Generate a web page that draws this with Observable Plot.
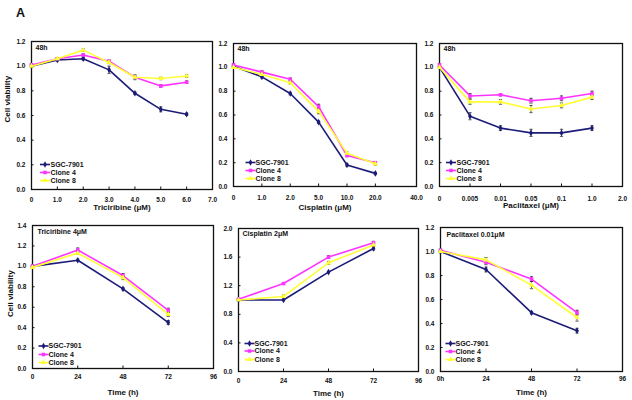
<!DOCTYPE html>
<html><head><meta charset="utf-8">
<script src="https://cdn.jsdelivr.net/npm/d3@7"></script>
<script src="https://cdn.jsdelivr.net/npm/@observablehq/plot@0.6"></script>
<style>
html,body{margin:0;padding:0;background:#fff;}
#wrap{position:relative;width:632px;height:400px;overflow:hidden;font-family:"Liberation Sans",Arial,sans-serif;}
#wrap svg{position:absolute;overflow:visible;}
#panelA{position:absolute;left:16px;top:6px;font-weight:bold;font-size:12.5px;color:#111;}
</style></head>
<body><div id="wrap"><div id="panelA">A</div></div>
<script>
// ---- series ----
const seriesNames = ["SGC-7901", "Clone 4", "Clone 8"];
const seriesColors = ["#1c1c78", "#ff33ff", "#ffff33"];
const seriesSymbols = ["diamond", "square", "triangle"];

// ---- Panel 1: Triciribine (µM), 48h ----
const tricX = [0, 1, 2, 3, 4, 5, 6];
const tricTicks = [0, 1, 2, 3, 4, 5, 6, 7];
const tricTickLabels = ["0", "1.0", "2.0", "3.0", "4.0", "5.0", "6.0", "7.0"];
const tricSGC = [1.00, 1.05, 1.06, 0.97, 0.78, 0.65, 0.61];
const tricC4  = [1.01, 1.06, 1.09, 1.04, 0.91, 0.84, 0.87];
const tricC8  = [1.00, 1.06, 1.13, 1.03, 0.91, 0.90, 0.92];
const tricErrSGC = [0.01, 0.01, 0.01, 0.03, 0.01, 0.02, 0.01];
const tricErrC4  = [0.01, 0.01, 0.01, 0.01, 0.01, 0.01, 0.01];
const tricErrC8  = [0.01, 0.01, 0.01, 0.01, 0.02, 0.01, 0.01];

// ---- Panel 2: Cisplatin (µM), 48h ----
const cisX = [0, 1, 2, 3, 4, 5];
const cisTicks = [0, 1, 2, 3, 4, 5, 6.45];
const cisTickLabels = ["0", "1.0", "2.0", "5.0", "10.0", "20.0", "40.0"];
const cisSGC = [1.01, 0.92, 0.78, 0.54, 0.18, 0.11];
const cisC4  = [1.02, 0.96, 0.90, 0.67, 0.26, 0.20];
const cisC8  = [1.00, 0.94, 0.87, 0.63, 0.28, 0.19];
const cisErrSGC = [0.01, 0.01, 0.01, 0.01, 0.01, 0.01];
const cisErrC4  = [0.01, 0.01, 0.01, 0.02, 0.01, 0.01];
const cisErrC8  = [0.01, 0.01, 0.01, 0.02, 0.01, 0.01];

// ---- Panel 3: Paclitaxel (µM), 48h ----
const pacX = [0, 1, 2, 3, 4, 5];
const pacTicks = [0, 1, 2, 3, 4, 5, 6];
const pacTickLabels = ["0", "0.005", "0.01", "0.05", "0.1", "1.0", "2.0"];
const pacSGC = [1.00, 0.59, 0.49, 0.45, 0.45, 0.49];
const pacC4  = [1.02, 0.76, 0.77, 0.72, 0.74, 0.78];
const pacC8  = [1.00, 0.71, 0.71, 0.65, 0.68, 0.75];
const pacErrSGC = [0.01, 0.03, 0.02, 0.03, 0.03, 0.02];
const pacErrC4  = [0.01, 0.02, 0.01, 0.02, 0.02, 0.02];
const pacErrC8  = [0.01, 0.02, 0.02, 0.03, 0.02, 0.02];

// ---- time course panels ----
const timeX = [0, 24, 48, 72];
const timeTicks = [0, 24, 48, 72, 96];
const timeTickLabels = ["0", "24", "48", "72", "96"];
const timeTickLabelsH = ["0h", "24", "48", "72", "96"];

// Panel 4: Triciribine 4µM
const tric4SGC = [1.00, 1.06, 0.78, 0.45];
const tric4C4  = [1.00, 1.16, 0.91, 0.57];
const tric4C8  = [0.99, 1.13, 0.89, 0.53];
const tric4ErrSGC = [0.01, 0.01, 0.01, 0.02];
const tric4ErrC4  = [0.01, 0.02, 0.02, 0.02];
const tric4ErrC8  = [0.01, 0.01, 0.02, 0.02];

// Panel 5: Cisplatin 2µM
const cis2SGC = [1.00, 1.00, 1.39, 1.72];
const cis2C4  = [1.01, 1.23, 1.60, 1.80];
const cis2C8  = [1.00, 1.05, 1.52, 1.77];
const cis2ErrSGC = [0.01, 0.01, 0.01, 0.02];
const cis2ErrC4  = [0.01, 0.01, 0.02, 0.02];
const cis2ErrC8  = [0.01, 0.02, 0.02, 0.02];

// Panel 6: Paclitaxel 0.01µM
const pac01SGC = [1.00, 0.85, 0.49, 0.34];
const pac01C4  = [1.01, 0.91, 0.77, 0.49];
const pac01C8  = [1.00, 0.93, 0.72, 0.45];
const pac01ErrSGC = [0.01, 0.02, 0.01, 0.02];
const pac01ErrC4  = [0.01, 0.02, 0.02, 0.02];
const pac01ErrC8  = [0.01, 0.02, 0.03, 0.03];

const yTicks12 = [0, 0.2, 0.4, 0.6, 0.8, 1.0, 1.2];
const yTicks14 = [0, 0.2, 0.4, 0.6, 0.8, 1.0, 1.2, 1.4];
const yTicks20 = [0, 0.4, 0.8, 1.2, 1.6, 2.0];

// ---- layout (frame: left, right, top, bottom in page px) ----
const panels = [
  {frame:[31,212,41,189], xs:tricX, xDomain:[0,7], xTicks:tricTicks, xLabels:tricTickLabels, yDomain:[0,1.2], yTicks:yTicks12,
   vals:[tricSGC,tricC4,tricC8], errs:[tricErrSGC,tricErrC4,tricErrC8], note:"48h", noteDx:4, noteDy:6,
   xTitle:"Triciribine (\u03bcM)", xTitleDy:18, xLabOff:10, yTitle:"Cell viability", yTitleDx:-24, yTitleDy:7,
   legX:13.5, legTextX:19, legDy:[-25,-17,-9]},
  {frame:[233,416,43,186], xs:cisX, xDomain:[0,6.45], xTicks:cisTicks, xLabels:cisTickLabels, yDomain:[0,1.2], yTicks:yTicks12,
   vals:[cisSGC,cisC4,cisC8], errs:[cisErrSGC,cisErrC4,cisErrC8], note:"48h", noteDx:4, noteDy:5,
   xTitle:"Cisplatin (\u03bcM)", xTitleDy:21, xLabOff:11,
   legX:17, legTextX:22, legDy:[-24,-16,-8]},
  {frame:[439,622,43,186], xs:pacX, xDomain:[0,6], xTicks:pacTicks, xLabels:pacTickLabels, yDomain:[0,1.2], yTicks:yTicks12,
   vals:[pacSGC,pacC4,pacC8], errs:[pacErrSGC,pacErrC4,pacErrC8], note:"48h", noteDx:4, noteDy:5,
   xTitle:"Paclitaxel (\u03bcM)", xTitleDy:19, xLabOff:12,
   legX:11.5, legTextX:17, legDy:[-24,-16,-8]},
  {frame:[32,213,225,368], xs:timeX, xDomain:[0,96], xTicks:timeTicks, xLabels:timeTickLabels, yDomain:[0,1.4], yTicks:yTicks14,
   vals:[tric4SGC,tric4C4,tric4C8], errs:[tric4ErrSGC,tric4ErrC4,tric4ErrC8], note:"Triciribine 4\u03bcM", noteDx:5, noteDy:6,
   xTitle:"Time (h)", xTitleDy:24, xLabOff:8, yTitle:"Cell viability", yTitleDx:-22, yTitleDy:20,
   legX:11, legTextX:16, legDy:[-22.5,-14,-6]},
  {frame:[238,418,228,371], xs:timeX, xDomain:[0,96], xTicks:timeTicks, xLabels:timeTickLabels, yDomain:[0,2.0], yTicks:yTicks20,
   vals:[cis2SGC,cis2C4,cis2C8], errs:[cis2ErrSGC,cis2ErrC4,cis2ErrC8], note:"Cisplatin 2\u03bcM", noteDx:4, noteDy:5,
   xTitle:"Time (h)", xTitleDy:22, xLabOff:9,
   legX:11, legTextX:16, legDy:[-28,-20.5,-12]},
  {frame:[440,622,227,371], xs:timeX, xDomain:[0,96], xTicks:timeTicks, xLabels:timeTickLabelsH, yDomain:[0,1.2], yTicks:yTicks12,
   vals:[pac01SGC,pac01C4,pac01C8], errs:[pac01ErrSGC,pac01ErrC4,pac01ErrC8], note:"Paclitaxel 0.01\u03bcM", noteDx:6, noteDy:7,
   xTitle:"Time (h)", xTitleDy:21, xLabOff:7,
   legX:10, legTextX:15, legDy:[-28,-20,-12]}
];

const capSymbol = {draw(ctx, size) { const r = Math.sqrt(size / Math.PI); ctx.moveTo(-r, 0); ctx.lineTo(r, 0); }};
const swatchSymbol = {draw(ctx) { ctx.moveTo(-5, 0); ctx.lineTo(5, 0); }};
const FONT = '"Liberation Sans", Arial, sans-serif';

function makePanel(p) {
  const [L, R, T, B] = p.frame;
  const mL = 31, mR = 8, mT = 10, mB = 32;
  const rows = [];
  p.vals.forEach((vals, s) => vals.forEach((v, i) => rows.push({s, x: p.xs[i], y: v, e: p.errs[s][i]})));
  const marks = [
    Plot.frame({stroke: "#111", strokeWidth: 1.3}),
    Plot.axisX({ticks: p.xTicks, tickFormat: d => p.xLabels[p.xTicks.indexOf(d)], tickSize: -2.5, tickPadding: p.xLabOff + 0.2, label: null, fontSize: 6.5}),
    Plot.axisY({ticks: p.yTicks, tickFormat: d => d.toFixed(1), tickSize: -2.5, tickPadding: 8.5, label: null, fontSize: 6.5})
  ];
  // error bars
  marks.push(Plot.ruleX(rows, {x: "x", y1: d => d.y - d.e, y2: d => d.y + d.e, stroke: "#333", strokeWidth: 0.8}));
  marks.push(Plot.dot(rows, {x: "x", y: d => d.y + d.e, symbol: capSymbol, r: 1.6, stroke: "#333", strokeWidth: 0.8}));
  marks.push(Plot.dot(rows, {x: "x", y: d => d.y - d.e, symbol: capSymbol, r: 1.6, stroke: "#333", strokeWidth: 0.8}));
  // series
  for (let s = 0; s < 3; s++) {
    const sub = rows.filter(d => d.s === s);
    marks.push(Plot.line(sub, {x: "x", y: "y", stroke: seriesColors[s], strokeWidth: 1.6}));
    marks.push(Plot.dot(sub, {x: "x", y: "y", symbol: seriesSymbols[s], r: 2, fill: seriesColors[s]}));
  }
  // legend
  for (let s = 0; s < 3; s++) {
    marks.push(Plot.dot([s], {frameAnchor: "bottom-left", dx: p.legX, dy: p.legDy[s], symbol: swatchSymbol, stroke: seriesColors[s], strokeWidth: 1.6}));
    marks.push(Plot.dot([s], {frameAnchor: "bottom-left", dx: p.legX, dy: p.legDy[s], symbol: seriesSymbols[s], r: 2, fill: seriesColors[s]}));
    marks.push(Plot.text([seriesNames[s]], {frameAnchor: "bottom-left", dx: p.legTextX, dy: p.legDy[s], textAnchor: "start", lineAnchor: "middle", fontSize: 7}));
  }
  // annotation and titles
  marks.push(Plot.text([p.note], {frameAnchor: "top-left", dx: p.noteDx, dy: p.noteDy, textAnchor: "start", lineAnchor: "middle", fontSize: 7}));
  marks.push(Plot.text([p.xTitle], {frameAnchor: "bottom", dy: p.xTitleDy, lineAnchor: "middle", fontSize: 8}));
  if (p.yTitle) marks.push(Plot.text([p.yTitle], {frameAnchor: "left", dx: p.yTitleDx, dy: p.yTitleDy, rotate: -90, lineAnchor: "middle", fontSize: 8}));

  const svg = Plot.plot({
    width: R - L + mL + mR, height: B - T + mT + mB,
    marginLeft: mL, marginRight: mR, marginTop: mT, marginBottom: mB,
    style: {fontFamily: FONT, fontWeight: "bold", fontSize: "6.5px", color: "#111", background: "transparent", overflow: "visible"},
    x: {domain: p.xDomain},
    y: {domain: p.yDomain},
    marks
  });
  svg.style.left = (L - mL) + "px";
  svg.style.top = (T - mT) + "px";
  return svg;
}

const wrap = document.getElementById("wrap");
panels.forEach(p => wrap.appendChild(makePanel(p)));
</script>
</body></html>
